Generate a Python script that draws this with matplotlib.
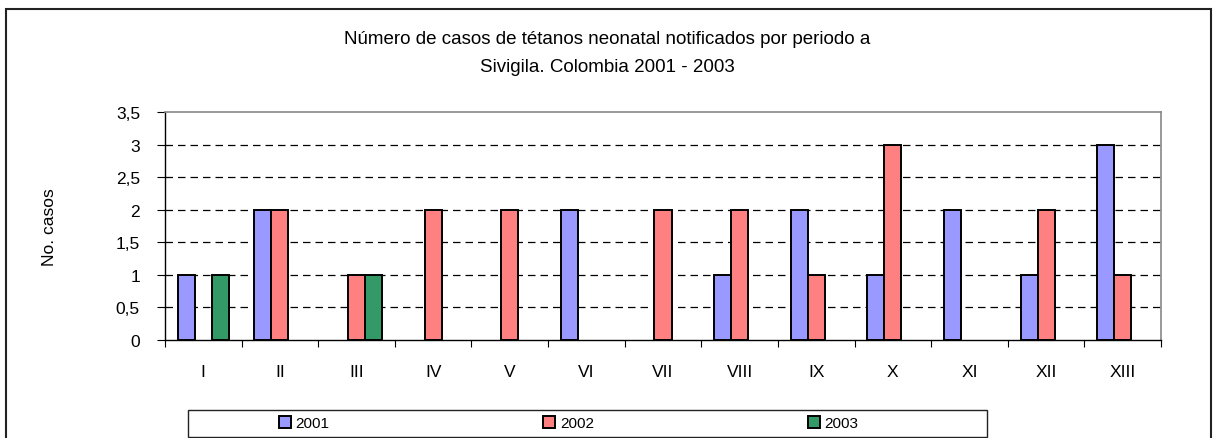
import matplotlib
matplotlib.use("Agg")
import matplotlib.pyplot as plt
from matplotlib.patches import Rectangle
import numpy as np

plt.rcParams['font.family'] = ['Liberation Sans', 'DejaVu Sans']

periodos = ["I", "II", "III", "IV", "V", "VI", "VII", "VIII", "IX", "X", "XI", "XII", "XIII"]
casos_2001 = [1, 2, 0, 0, 0, 2, 0, 1, 2, 1, 2, 1, 3]
casos_2002 = [0, 2, 1, 2, 2, 0, 2, 2, 1, 3, 0, 2, 1]
casos_2003 = [1, 0, 1, 0, 0, 0, 0, 0, 0, 0, 0, 0, 0]
series = ["2001", "2002", "2003"]
colores = ["#9999FF", "#FF8080", "#339966"]
ytick_vals = [0, 0.5, 1, 1.5, 2, 2.5, 3, 3.5]
ytick_labels = ["0", "0,5", "1", "1,5", "2", "2,5", "3", "3,5"]

W, H = 1215, 439
fig = plt.figure(figsize=(W / 100, H / 100), dpi=100)

# outer frame
fig.patches.append(Rectangle((6 / W, -0.05), 1205 / W, 1.05 - 10 / H,
                             transform=fig.transFigure, fill=False,
                             edgecolor="#222222", linewidth=1.5))

ax = fig.add_axes([165 / W, 1 - 341 / H, 996 / W, 228 / H])

x = np.arange(len(periodos))
w = 0.222
handles = []
for i, (vals, col, lab) in enumerate(zip([casos_2001, casos_2002, casos_2003], colores, series)):
    v = np.array(vals, dtype=float)
    mask = v > 0
    b = ax.bar(x[mask] + (i - 1) * w, v[mask], width=w, color=col,
               edgecolor="black", linewidth=1.4, label=lab, zorder=3)
    handles.append(b)

ax.set_xlim(-0.5, len(periodos) - 0.5)
ax.set_ylim(0, 3.5)
ax.set_yticks(ytick_vals)
ax.set_yticklabels(ytick_labels, fontsize=12.5)
for yv in ytick_vals[1:-1]:
    ax.axhline(yv, color="black", linewidth=0.9, dashes=(6, 4), zorder=1)

ax.set_xticks(np.arange(len(periodos) + 1) - 0.5)
ax.set_xticklabels([])
ax.set_xticks(x, minor=True)
ax.set_xticklabels(periodos, minor=True, fontsize=12.5)
ax.tick_params(axis="x", which="major", length=5, width=0.8, direction="out")
ax.tick_params(axis="x", which="minor", length=0, pad=17)
ax.tick_params(axis="y", length=6, width=0.8, pad=12)

for s in ["left", "bottom"]:
    ax.spines[s].set_color("black")
    ax.spines[s].set_linewidth(1.0)
for s in ["top", "right"]:
    ax.spines[s].set_color("#888888")
    ax.spines[s].set_linewidth(1.2)

ax.set_ylabel("No. casos", fontsize=12.5, labelpad=42)

fig.text(0.5, 1 - 40 / H, "Número de casos de tétanos neonatal notificados por periodo a",
         ha="center", va="center", fontsize=13.5)
fig.text(0.5, 1 - 67 / H, "Sivigila. Colombia 2001 - 2003",
         ha="center", va="center", fontsize=13.5)

# legend box
fig.patches.append(Rectangle((188 / W, 1 - 438 / H), 799 / W, 27 / H,
                             transform=fig.transFigure, fill=False,
                             edgecolor="#222222", linewidth=1.0))
fig.legend(handles=handles, labels=series, ncol=3, frameon=False,
           loc="center", bbox_to_anchor=(0.468, 1 - 424 / H),
           fontsize=11, handlelength=0.8, handleheight=0.8,
           handletextpad=0.3, columnspacing=14.0)

fig.savefig("out.png", dpi=100)
